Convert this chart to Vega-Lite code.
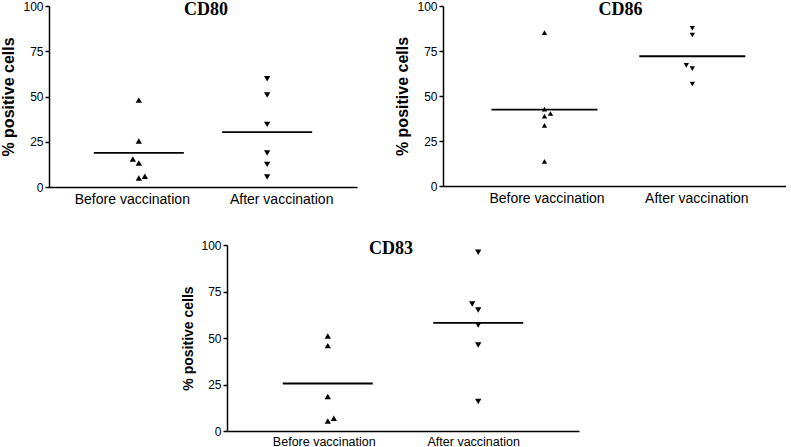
{
  "$schema": "https://vega.github.io/schema/vega-lite/v6.json",
  "background": "white",
  "padding": {"left": 0, "top": 0, "right": 0, "bottom": 0},
  "spacing": 33,
  "config": {
    "view": {"stroke": null},
    "axis": {"domainColor": "black", "tickColor": "black", "labelColor": "black", "titleColor": "black", "grid": false, "domainWidth": 1.5, "tickWidth": 1.5, "labelFont": "Liberation Sans", "titleFont": "Liberation Sans"},
    "title": {"font": "Liberation Serif", "fontWeight": "bold", "fontSize": 18, "color": "black", "frame": "group", "anchor": "middle", "baseline": "alphabetic"}
  },
  "datasets": {
    "cells": [
      {"panel": "CD80", "group": "Before vaccination", "value": 48.0, "j": 0},
      {"panel": "CD80", "group": "Before vaccination", "value": 25.4, "j": 0},
      {"panel": "CD80", "group": "Before vaccination", "value": 15.5, "j": -1},
      {"panel": "CD80", "group": "Before vaccination", "value": 13.3, "j": 0},
      {"panel": "CD80", "group": "Before vaccination", "value": 5.0, "j": 0},
      {"panel": "CD80", "group": "Before vaccination", "value": 6.0, "j": 1},
      {"panel": "CD80", "group": "After vaccination", "value": 59.8, "j": 0},
      {"panel": "CD80", "group": "After vaccination", "value": 50.8, "j": 0},
      {"panel": "CD80", "group": "After vaccination", "value": 34.6, "j": 0},
      {"panel": "CD80", "group": "After vaccination", "value": 18.8, "j": 0},
      {"panel": "CD80", "group": "After vaccination", "value": 12.5, "j": 0},
      {"panel": "CD80", "group": "After vaccination", "value": 5.5, "j": 0},
      {"panel": "CD86", "group": "Before vaccination", "value": 85.2, "j": 0},
      {"panel": "CD86", "group": "Before vaccination", "value": 42.7, "j": 0},
      {"panel": "CD86", "group": "Before vaccination", "value": 40.3, "j": 1},
      {"panel": "CD86", "group": "Before vaccination", "value": 38.8, "j": 0},
      {"panel": "CD86", "group": "Before vaccination", "value": 33.7, "j": 0},
      {"panel": "CD86", "group": "Before vaccination", "value": 13.7, "j": 0},
      {"panel": "CD86", "group": "After vaccination", "value": 87.6, "j": 0},
      {"panel": "CD86", "group": "After vaccination", "value": 83.9, "j": 0},
      {"panel": "CD86", "group": "After vaccination", "value": 67.0, "j": -1},
      {"panel": "CD86", "group": "After vaccination", "value": 65.2, "j": 0},
      {"panel": "CD86", "group": "After vaccination", "value": 56.7, "j": 0},
      {"panel": "CD83", "group": "Before vaccination", "value": 51.1, "j": 0},
      {"panel": "CD83", "group": "Before vaccination", "value": 45.9, "j": 0},
      {"panel": "CD83", "group": "Before vaccination", "value": 18.5, "j": 0},
      {"panel": "CD83", "group": "Before vaccination", "value": 6.8, "j": 1},
      {"panel": "CD83", "group": "Before vaccination", "value": 5.4, "j": 0},
      {"panel": "CD83", "group": "After vaccination", "value": 96.1, "j": 0},
      {"panel": "CD83", "group": "After vaccination", "value": 68.3, "j": -1},
      {"panel": "CD83", "group": "After vaccination", "value": 65.1, "j": 0},
      {"panel": "CD83", "group": "After vaccination", "value": 57.0, "j": 0},
      {"panel": "CD83", "group": "After vaccination", "value": 46.2, "j": 0},
      {"panel": "CD83", "group": "After vaccination", "value": 15.8, "j": 0}
    ]
  },
  "vconcat": [
    {
      "spacing": 37,
      "hconcat": [
        {
          "width": 308, "height": 181,
          "title": {"text": "CD80", "offset": -19, "dx": 3},
          "data": {"name": "cells"},
          "transform": [{"filter": "datum.panel === 'CD80'"}],
          "encoding": {
            "x": {"field": "group", "type": "nominal", "sort": ["Before vaccination", "After vaccination"], "scale": {"type": "point", "padding": 0.7},
              "axis": {"title": null, "ticks": false, "labelAngle": 0, "labelFontSize": 14, "labelPadding": 5,
                "labelOffset": {"condition": {"test": "datum.value === 'After vaccination'", "value": 14}, "value": -7}}}
          },
          "layer": [
            {
              "mark": {"type": "point", "filled": true, "color": "black", "opacity": 1, "size": 40},
              "encoding": {
                "xOffset": {"field": "j", "type": "quantitative", "scale": {"domain": [-1, 1], "range": [-6, 6]}},
                "y": {"field": "value", "type": "quantitative", "scale": {"domain": [0, 100]},
                  "axis": {"values": [0, 25, 50, 75, 100], "title": "% positive cells", "titleFontSize": 16, "titleFontWeight": "bold", "titlePadding": 6, "labelFontSize": 12, "tickSize": 4, "labelPadding": 2}},
                "shape": {"field": "group", "type": "nominal", "scale": {"domain": ["Before vaccination", "After vaccination"], "range": ["triangle-up", "triangle-down"]}, "legend": null}
              }
            },
            {
              "mark": {"type": "tick", "orient": "horizontal", "size": 90, "thickness": 1.8, "color": "black", "opacity": 1},
              "encoding": {
                "y": {"aggregate": "mean", "field": "value", "type": "quantitative", "scale": {"domain": [0, 100]},
                  "axis": {"values": [0, 25, 50, 75, 100], "title": "% positive cells", "titleFontSize": 16, "titleFontWeight": "bold", "titlePadding": 6, "labelFontSize": 12, "tickSize": 4, "labelPadding": 2}}
              }
            }
          ]
        },
        {
          "width": 343, "height": 180,
          "title": {"text": "CD86", "offset": -19, "dx": 6},
          "data": {"name": "cells"},
          "transform": [{"filter": "datum.panel === 'CD86'"}],
          "encoding": {
            "x": {"field": "group", "type": "nominal", "sort": ["Before vaccination", "After vaccination"], "scale": {"type": "point", "padding": 0.66, "align": 0.52},
              "axis": {"title": null, "ticks": false, "labelAngle": 0, "labelFontSize": 14, "labelPadding": 5,
                "labelOffset": {"condition": {"test": "datum.value === 'After vaccination'", "value": 4}, "value": 2}}}
          },
          "layer": [
            {
              "mark": {"type": "point", "filled": true, "color": "black", "opacity": 1, "size": 28},
              "encoding": {
                "xOffset": {"field": "j", "type": "quantitative", "scale": {"domain": [-1, 1], "range": [-6, 6]}},
                "y": {"field": "value", "type": "quantitative", "scale": {"domain": [0, 100]},
                  "axis": {"values": [0, 25, 50, 75, 100], "title": "% positive cells", "titleFontSize": 16, "titleFontWeight": "bold", "titlePadding": 6, "labelFontSize": 12, "tickSize": 4, "labelPadding": 2}},
                "shape": {"field": "group", "type": "nominal", "scale": {"domain": ["Before vaccination", "After vaccination"], "range": ["triangle-up", "triangle-down"]}, "legend": null}
              }
            },
            {
              "mark": {"type": "tick", "orient": "horizontal", "size": 106, "thickness": 1.8, "color": "black", "opacity": 1},
              "encoding": {
                "y": {"aggregate": "mean", "field": "value", "type": "quantitative", "scale": {"domain": [0, 100]},
                  "axis": {"values": [0, 25, 50, 75, 100], "title": "% positive cells", "titleFontSize": 16, "titleFontWeight": "bold", "titlePadding": 6, "labelFontSize": 12, "tickSize": 4, "labelPadding": 2}}
              }
            }
          ]
        }
      ]
    },
    {
      "spacing": 20,
      "hconcat": [
        {
          "width": 112, "height": 10,
          "data": {"values": []},
          "mark": {"type": "point", "opacity": 0},
          "encoding": {}
        },
        {
          "width": 352, "height": 186,
          "title": {"text": "CD83", "offset": -19, "dx": -12},
          "data": {"name": "cells"},
          "transform": [{"filter": "datum.panel === 'CD83'"}],
          "encoding": {
            "x": {"field": "group", "type": "nominal", "sort": ["Before vaccination", "After vaccination"], "scale": {"type": "point", "padding": 0.67},
              "axis": {"title": null, "ticks": false, "labelAngle": 0, "labelFontSize": 12.5, "labelPadding": 4,
                "labelOffset": {"condition": {"test": "datum.value === 'After vaccination'", "value": -5}, "value": -4}}}
          },
          "layer": [
            {
              "mark": {"type": "point", "filled": true, "color": "black", "opacity": 1, "size": 40},
              "encoding": {
                "xOffset": {"field": "j", "type": "quantitative", "scale": {"domain": [-1, 1], "range": [-6, 6]}},
                "y": {"field": "value", "type": "quantitative", "scale": {"domain": [0, 100]},
                  "axis": {"values": [0, 25, 50, 75, 100], "title": "% positive cells", "titleFontSize": 14, "titleFontWeight": "bold", "titlePadding": 5, "labelFontSize": 12, "tickSize": 4, "labelPadding": 2}},
                "shape": {"field": "group", "type": "nominal", "scale": {"domain": ["Before vaccination", "After vaccination"], "range": ["triangle-up", "triangle-down"]}, "legend": null}
              }
            },
            {
              "mark": {"type": "tick", "orient": "horizontal", "size": 90, "thickness": 1.8, "color": "black", "opacity": 1},
              "encoding": {
                "y": {"aggregate": "mean", "field": "value", "type": "quantitative", "scale": {"domain": [0, 100]},
                  "axis": {"values": [0, 25, 50, 75, 100], "title": "% positive cells", "titleFontSize": 14, "titleFontWeight": "bold", "titlePadding": 5, "labelFontSize": 12, "tickSize": 4, "labelPadding": 2}}
              }
            }
          ]
        }
      ]
    }
  ]
}
